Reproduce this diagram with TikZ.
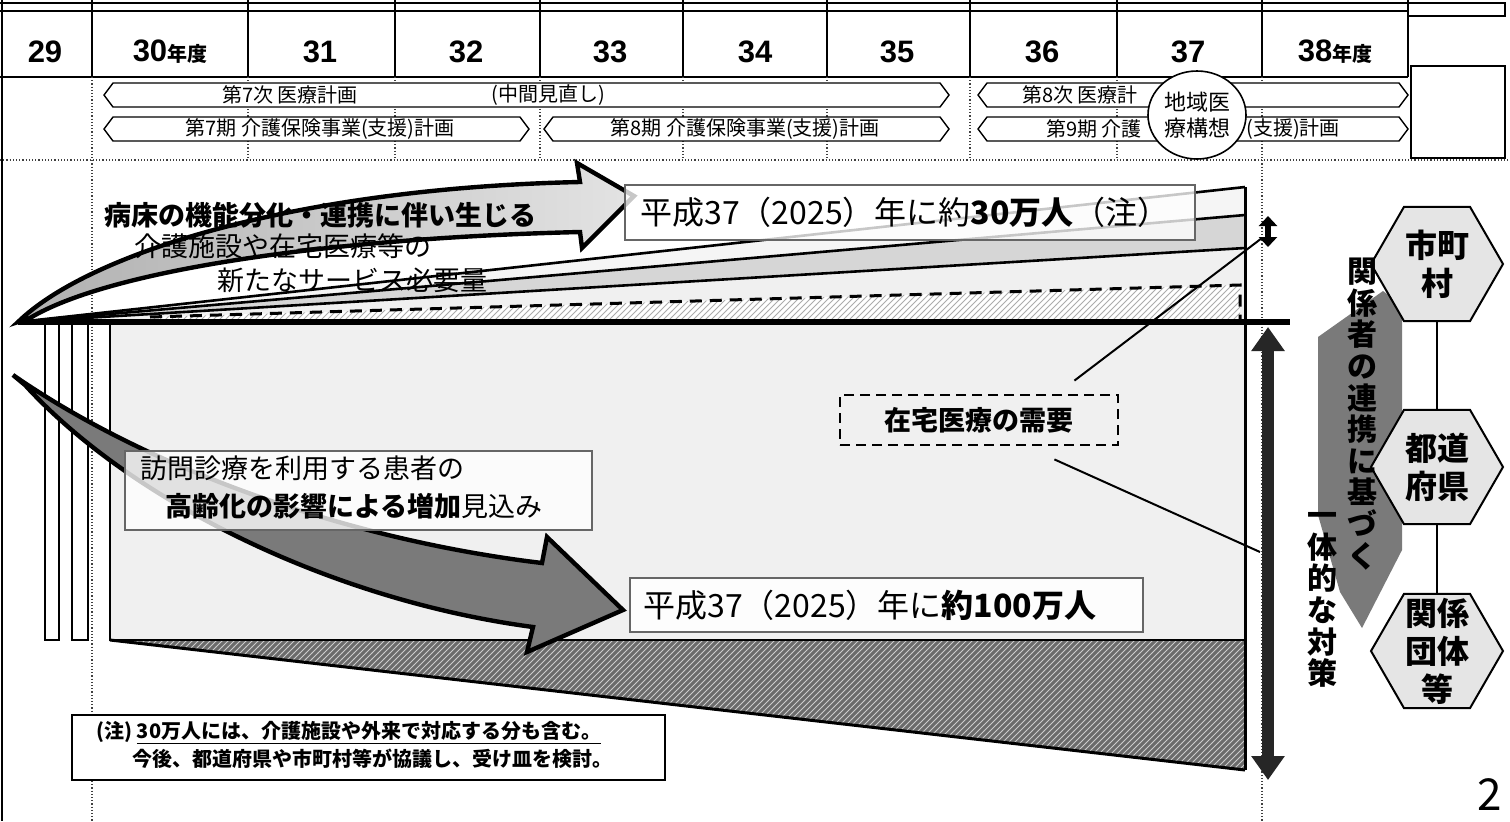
\documentclass[tikz,border=0pt]{standalone}
\usepackage{fontspec}
\setmainfont{Noto Sans CJK JP}
\newfontfamily\yrfont{Liberation Sans}
\usetikzlibrary{arrows.meta,shapes.geometric,patterns,calc}
\tikzset{
  yr/.style={font=\yrfont\bfseries\fontsize{15.5}{16}\selectfont, inner sep=0},
  plantxt/.style={font=\fontsize{10}{11}\selectfont, inner sep=0},
  chev/.style={draw, line width=0.7pt, fill=white},
  dotgrid/.style={densely dotted, line width=0.6pt, black!75},
  bigtxt/.style={font=\fontsize{16}{18}\selectfont, inner sep=0},
  arrtxt/.style={font=\fontsize{13.5}{15}\selectfont, inner sep=0},
  tbox/.style={draw=black!60, line width=0.6pt, fill=white, fill opacity=0.78, inner sep=0},
  hexa/.style={regular polygon, regular polygon sides=6, minimum size=66pt, draw, line width=1pt, fill=gray!20, inner sep=0},
  hextxt/.style={font=\bfseries\fontsize{16}{19}\selectfont, align=center, inner sep=0},
  vtxt/.style={font=\bfseries\fontsize{15}{15.8}\selectfont, align=center, inner sep=0}
}
\newcommand\chevbar[4]{%
  \draw[chev] (#1+9,#3) -- (#2-9,#3) -- (#2,{(#3+#4)/2}) -- (#2-9,#4) -- (#1+9,#4) -- (#1,{(#3+#4)/2}) -- cycle;}
\begin{document}
\begin{tikzpicture}[x=0.5pt,y=-0.5pt]
\useasboundingbox (0,0) rectangle (1510,821);
\fill[white] (0,0) rectangle (1510,821);

% ---------- top table ----------
\draw[line width=0.8pt] (0,3) -- (1505,3) -- (1505,16) -- (1408,16);
\draw[line width=1pt] (0,11) -- (1408,11);
\draw[line width=1pt] (0,77) -- (1408,77);
\foreach \xx in {92,248,395,540,683,827,970,1117,1262,1408}
  \draw[line width=0.8pt] (\xx,0) -- (\xx,77);
\draw[line width=0.8pt] (2,0) -- (2,821);

\node[yr] (y29) at (45,52) {29};
\node[yr] (y30) at (170,52) {30{\rmfamily\bfseries\fontsize{10}{11}\selectfont 年度}};
\node[yr] (y31) at (320,52) {31};
\node[yr] (y32) at (466,52) {32};
\node[yr] (y33) at (610,52) {33};
\node[yr] (y34) at (755,52) {34};
\node[yr] (y35) at (897,52) {35};
\node[yr] (y36) at (1042,52) {36};
\node[yr] (y37) at (1188,52) {37};
\node[yr] (y38) at (1335,52) {38{\rmfamily\bfseries\fontsize{10}{11}\selectfont 年度}};

\foreach \xx in {248,395,540,683,827,970,1117}
  \draw[dotgrid] (\xx,77) -- (\xx,160);
\draw[dotgrid] (92,77) -- (92,821);
\draw[dotgrid] (1262,77) -- (1262,821);
\draw[dotgrid] (0,160) -- (1510,160);

% ---------- plan bars ----------
\chevbar{104}{949}{83}{107}
\chevbar{978}{1408}{83}{107}
\chevbar{104}{529}{117}{141}
\chevbar{544}{949}{117}{141}
\chevbar{978}{1408}{117}{141}
\node[plantxt] (p7) at (290,95) {第7次\ 医療計画};
\node[plantxt] (chukan) at (548,95) {(中間見直し)};
\node[plantxt] (k7) at (320,129) {第7期\ 介護保険事業(支援)計画};
\node[plantxt] (k8) at (745,129) {第8期\ 介護保険事業(支援)計画};
\node[plantxt,anchor=west] (p8) at (1022,95) {第8次\ 医療計};
\node[plantxt,anchor=west] (k9a) at (1046,129) {第9期\ 介護};
\node[plantxt,anchor=west] (k9b) at (1246,129) {(支援)計画};
\node[ellipse, draw, fill=white, line width=0.8pt, minimum width=49pt, minimum height=44pt,
      font=\fontsize{11}{13}\selectfont, align=center, inner sep=0] (kousou) at (1197,115) {地域医\\療構想};
\draw[line width=0.8pt] (1411,66) rectangle (1505,158);

% ---------- chart ----------
\coordinate (T) at (18,322);
\coordinate (R1) at (1245,187);
\coordinate (R2) at (1245,215);
\coordinate (R3) at (1245,248);
\fill[gray!8] (T) -- (R1) -- (R2) -- cycle;
\fill[gray!32] (T) -- (R2) -- (R3) -- cycle;
\fill[gray!12] (T) -- (R3) -- (1245,322) -- cycle;
\fill[white] (150,317) -- (1240,285) -- (1240,322) -- (150,322) -- cycle;
\fill[pattern=north east lines, pattern color=gray!65] (150,317) -- (1240,285) -- (1240,322) -- (150,322) -- cycle;
\draw[line width=1.5pt, dash pattern=on 6pt off 4pt] (150,317) -- (1240,285) -- (1240,322);

\fill[gray!12] (110,322) rectangle (1245,640);
\fill[black!58] (110,640) -- (1245,640) -- (1245,770) -- cycle;
\fill[pattern=north east lines, pattern color=gray!40] (110,640) -- (1245,640) -- (1245,770) -- cycle;
\draw[line width=1.5pt] (110,640) -- (1245,770);
\draw[line width=1.2pt] (110,322) -- (110,640) -- (1245,640);
\draw[line width=1.5pt] (R1) -- (1245,770);
\draw[line width=1pt, fill=white] (45,322) rectangle (59,640);
\draw[line width=1pt, fill=white] (72,322) rectangle (88,640);

\draw[line width=1.3pt] (T) -- (R1);
\draw[line width=1.3pt] (T) -- (R2);
\draw[line width=1.3pt] (T) -- (R3);
\draw[line width=3pt] (T) -- (1290,322);

% upper arrow
\draw[line width=2.2pt, line join=miter, left color=gray!62, right color=gray!22]
  (18,322) .. controls (90,252) and (300,188) .. (580,182) -- (577,163) -- (634,196)
  -- (582,248) -- (580,232) .. controls (330,238) and (110,270) .. (30,318) -- cycle;
\node[arrtxt, font=\bfseries\fontsize{13.5}{15}\selectfont] (a1) at (320,215) {病床の機能分化・連携に伴い生じる};
\node[arrtxt] (a2) at (283,246) {介護施設や在宅医療等の};
\node[arrtxt] (a3) at (352,280) {新たなサービス必要量};

\node[tbox, minimum width=285pt, minimum height=27.5pt] (box30) at (910,212.5) {};
\node[bigtxt, anchor=west] (t30) at (640,212) {平成37（2025）年に約{\bfseries 30万人}（注）};

% lower arrow
\draw[line width=2.2pt, line join=miter, fill=black!52]
  (13,375) .. controls (150,470) and (350,540) .. (542,563) -- (547,537) -- (623,610)
  -- (527,652) -- (533,627) .. controls (330,600) and (130,500) .. (25,385) -- cycle;
\node[tbox, minimum width=233.5pt, minimum height=39.5pt] (boxh) at (358.5,490.5) {};
\node[arrtxt, anchor=west] (h1t) at (140,468) {訪問診療を利用する患者の};
\node[arrtxt, anchor=west] (h2t) at (165,506) {{\bfseries 高齢化の影響による増加}見込み};

\node[tbox, fill opacity=0.9, minimum width=256.5pt, minimum height=27pt] (box100) at (886.5,605) {};
\node[bigtxt, anchor=west] (t100) at (643,605) {平成37（2025）年に{\bfseries 約100万人}};

% demand box and leaders
\node[draw, dash pattern=on 5pt off 3pt, line width=1.4pt, minimum width=139pt, minimum height=25pt,
      font=\bfseries\fontsize{13.5}{15}\selectfont, inner sep=0] (demand) at (979,420) {在宅医療の需要};
\coordinate (smallarr) at (1262,238);
\coordinate (bigarr) at (1260,552);
\draw[line width=1pt] ([shift={(-45,-13)}]demand.north east) -- (smallarr);
\draw[line width=1pt] ([shift={(-65,13)}]demand.south east) -- (bigarr);

% double arrows
\draw[line width=3pt, {Triangle[length=5pt,width=9pt]}-{Triangle[length=5pt,width=9pt]}] (1268,216) -- (1268,247);
\draw[line width=6pt, black!85, {Triangle[length=12pt,width=16pt]}-{Triangle[length=12pt,width=16pt]}] (1268,327) -- (1268,780);

% note box
\node[draw, line width=0.8pt, fill=white, minimum width=296.5pt, minimum height=32.5pt, inner sep=0] (note) at (368.5,747.5) {};
\node[font=\bfseries\fontsize{10}{12}\selectfont, anchor=west, inner sep=0] (n1) at (96,733)
  {(注) \underline{30万人には、介護施設や外来で対応する分も含む。}};
\node[font=\bfseries\fontsize{10}{12}\selectfont, anchor=west, inner sep=0] (n2) at (132,759)
  {今後、都道府県や市町村等が協議し、受け皿を検討。};

% ---------- right side ----------
\fill[black!52] (1318,337) -- (1383,291) -- (1402,305) -- (1402,550) -- (1362,628) -- (1340,592) -- (1318,515) -- cycle;
\node[hexa] (hx1) at (1437,264) {};
\node[hexa] (hx2) at (1437,467) {};
\node[hexa] (hx3) at (1437,651) {};
\draw[line width=1pt] (hx1) -- (hx2);
\draw[line width=1pt] (hx2) -- (hx3);
\node[hextxt] (hx1t) at (hx1) {市町\\村};
\node[hextxt] (hx2t) at (hx2) {都道\\府県};
\node[hextxt] (hx3t) at (hx3) {関係\\団体\\等};
\node[vtxt] (vc1) at (1362,414) {関\\係\\者\\の\\連\\携\\に\\基\\づ\\く};
\node[vtxt] (vc2) at (1322,600) {一\\体\\的\\な\\対\\策};

\node[font=\fontsize{22}{24}\selectfont, inner sep=0] (pg) at (1490,795) {2};
\end{tikzpicture}
\end{document}
